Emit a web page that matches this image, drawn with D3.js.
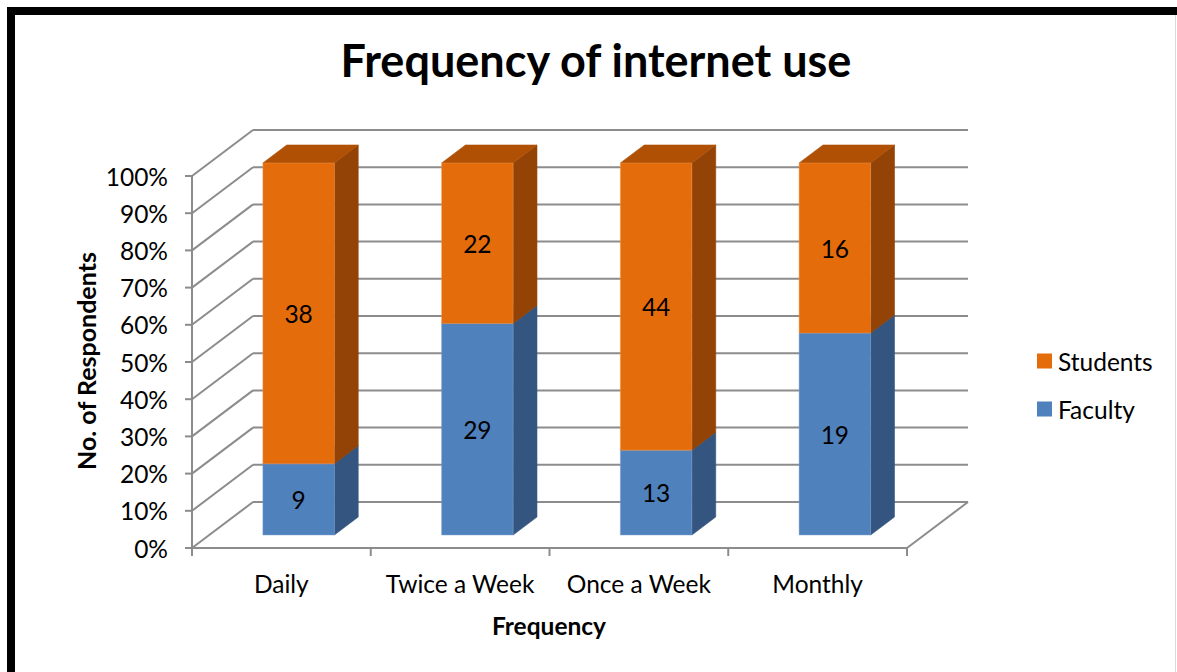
<!DOCTYPE html>
<html>
<head>
<meta charset="utf-8">
<script src="https://cdn.jsdelivr.net/npm/d3@7"></script>
<style>
  html, body { margin: 0; padding: 0; background: #fff; }
  svg { display: block; }
  text { font-family: Lato, "Open Sans", sans-serif; fill: #000; }
</style>
</head>
<body>
<svg id="chart" width="1177" height="672"></svg>
<script>
// Survey counts per frequency of internet use
const categories = ["Daily", "Twice a Week", "Once a Week", "Monthly"];
const faculty  = [9, 29, 13, 19];
const students = [38, 22, 44, 16];
const seriesNames = ["Faculty", "Students"];
const yTicks = [0, 0.1, 0.2, 0.3, 0.4, 0.5, 0.6, 0.7, 0.8, 0.9, 1.0];

const W = 1177, H = 672;
const svg = d3.select("#chart");
const fs = "24.5px";

// Outer frame: heavy black border on top/left, faint edge on the right
svg.append("path")
  .attr("d", `M11,${H} L11,11 L${W},11`)
  .attr("fill", "none").attr("stroke", "#000").attr("stroke-width", 8);
svg.append("line")
  .attr("x1", W - 1.5).attr("x2", W - 1.5).attr("y1", 15).attr("y2", H)
  .attr("stroke", "#d9d9d9").attr("stroke-width", 1);

// Plot geometry (oblique 3D projection)
const x = d3.scaleBand().domain(categories).range([192, 907]);
const y = d3.scaleLinear().domain([0, 1]).range([548, 176]);
const DX = 61, DY = 46;           // full wall depth offset
const zFront = 13 / 46, zBack = 31 / 46; // bar depth span (fraction of wall depth)
const P = (px, py, z) => [px + z * DX, py - z * DY];

const grid = "#8c8c8c";
const g = svg.append("g");

// Back wall gridlines and left wall diagonals
yTicks.forEach(t => {
  const yf = y(t);
  const [bx, by] = P(192, yf, 1);
  g.append("line").attr("x1", bx).attr("y1", by).attr("x2", 907 + DX).attr("y2", by)
    .attr("stroke", grid).attr("stroke-width", 2);
  g.append("line").attr("x1", 192).attr("y1", yf).attr("x2", bx).attr("y2", by)
    .attr("stroke", grid).attr("stroke-width", 2);
  // left tick mark
  g.append("line").attr("x1", 185).attr("y1", yf).attr("x2", 192).attr("y2", yf)
    .attr("stroke", grid).attr("stroke-width", 2);
});

// Floor: front edge and right edge
g.append("line").attr("x1", 192).attr("y1", y(0)).attr("x2", 907).attr("y2", y(0))
  .attr("stroke", grid).attr("stroke-width", 2);
g.append("line").attr("x1", 907).attr("y1", y(0)).attr("x2", 907 + DX).attr("y2", y(0) - DY)
  .attr("stroke", grid).attr("stroke-width", 2);
// Front vertical axis
g.append("line").attr("x1", 192).attr("y1", y(0)).attr("x2", 192).attr("y2", y(1))
  .attr("stroke", grid).attr("stroke-width", 2);

// Category tick marks
const bounds = categories.map(c => x(c)).concat([x(categories[categories.length - 1]) + x.bandwidth()]);
bounds.forEach(bx => {
  g.append("line").attr("x1", bx).attr("y1", y(0)).attr("x2", bx).attr("y2", y(0) + 8)
    .attr("stroke", grid).attr("stroke-width", 2);
});

// Y tick labels
svg.append("g").selectAll("text").data(yTicks).join("text")
  .attr("x", 168).attr("y", d => y(d) + 1).attr("dy", "0.35em")
  .attr("text-anchor", "end").style("font-size", fs)
  .text(d => d3.format(".0%")(d));

// Category labels
svg.append("g").selectAll("text").data(categories).join("text")
  .attr("x", d => x(d) + x.bandwidth() / 2).attr("y", 584).attr("dy", "0.35em")
  .attr("text-anchor", "middle").style("font-size", fs)
  .text(d => d);

// Stacked 100% bars
const colors = {
  Faculty:  { front: "#4F81BD", side: "#34557F", top: "#3D6797", edge: "#7fa3d0" },
  Students: { front: "#E46C0A", side: "#934305", top: "#B05005", edge: "#f09a55" }
};
const barW = x.bandwidth() * 0.4;
const poly = pts => "M" + pts.map(p => p.join(",")).join("L") + "Z";

categories.forEach((c, i) => {
  const total = faculty[i] + students[i];
  const segs = [
    { name: "Faculty", v: faculty[i], s0: 0, s1: faculty[i] / total },
    { name: "Students", v: students[i], s0: faculty[i] / total, s1: 1 }
  ];
  const x0 = x(c) + (x.bandwidth() - barW) / 2, x1 = x0 + barW;
  segs.forEach(s => {
    const col = colors[s.name];
    const yb = y(s.s0), yt = y(s.s1);
    const front = [P(x0, yb, zFront), P(x1, yb, zFront), P(x1, yt, zFront), P(x0, yt, zFront)];
    const side = [P(x1, yb, zFront), P(x1, yb, zBack), P(x1, yt, zBack), P(x1, yt, zFront)];
    const top = [P(x0, yt, zFront), P(x1, yt, zFront), P(x1, yt, zBack), P(x0, yt, zBack)];
    g.append("path").attr("d", poly(side)).attr("fill", col.side)
      .attr("stroke", col.side).attr("stroke-width", 0.6);
    g.append("path").attr("d", poly(top)).attr("fill", col.top)
      .attr("stroke", col.top).attr("stroke-width", 0.6);
    g.append("path").attr("d", poly(front)).attr("fill", col.front)
      .attr("stroke", col.edge).attr("stroke-width", 0.8).attr("stroke-opacity", 0.6);
    const [lx, ly] = P((x0 + x1) / 2, (yb + yt) / 2, zFront);
    svg.append("text").attr("x", lx).attr("y", ly + 1).attr("dy", "0.35em")
      .attr("text-anchor", "middle").style("font-size", fs).text(s.v);
  });
});

// Title and axis titles
svg.append("text").attr("x", 596).attr("y", 77).attr("text-anchor", "middle")
  .style("font-size", "45px").style("font-weight", "bold")
  .text("Frequency of internet use");
svg.append("text").attr("transform", "translate(96,361) rotate(-90)")
  .attr("text-anchor", "middle").style("font-size", "25px").style("font-weight", "bold")
  .text("No. of Respondents");
svg.append("text").attr("x", 549).attr("y", 626).attr("dy", "0.35em")
  .attr("text-anchor", "middle").style("font-size", fs).style("font-weight", "bold")
  .text("Frequency");

// Legend (Students above Faculty)
const legend = svg.append("g");
["Students", "Faculty"].forEach((name, i) => {
  const ly = 361 + i * 48;
  legend.append("rect").attr("x", 1037).attr("y", ly - 7.5).attr("width", 15).attr("height", 15)
    .attr("fill", colors[name].front);
  legend.append("text").attr("x", 1058).attr("y", ly + 1).attr("dy", "0.35em")
    .style("font-size", fs).text(name);
});
</script>
</body>
</html>
